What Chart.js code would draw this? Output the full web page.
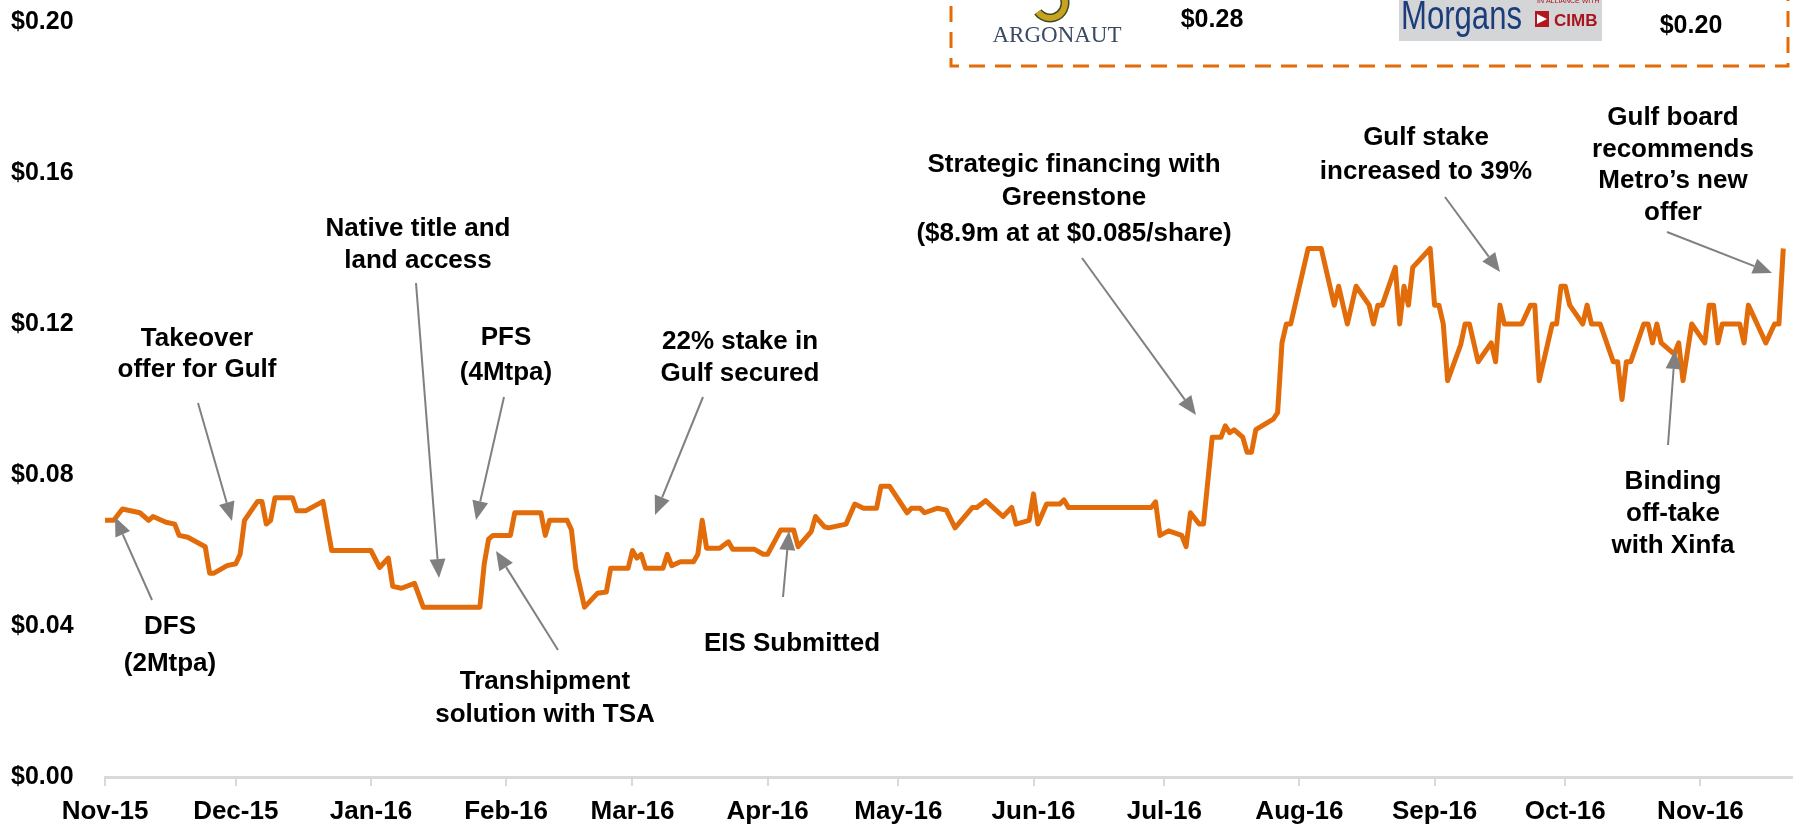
<!DOCTYPE html>
<html lang="en">
<head>
    <meta charset="UTF-8">
    <title>Share price history</title>
    <script src="https://cdn.jsdelivr.net/npm/chart.js"></script>
    <style>
        html, body { margin: 0; padding: 0; background: #fff; }
        .chart-wrap { position: relative; width: 1794px; height: 824px; }
    </style>
</head>
<body>
    <div class="chart-wrap">
        <canvas id="priceChart"></canvas>
    </div>

    <script>
        // Share price (vertices of the line)
        const dates = [
            '2015-11-01', '2015-11-03', '2015-11-05', '2015-11-09', '2015-11-11', '2015-11-12', '2015-11-15', '2015-11-17',
            '2015-11-18', '2015-11-20', '2015-11-24', '2015-11-25', '2015-11-26', '2015-11-29', '2015-12-01', '2015-12-02',
            '2015-12-03', '2015-12-06', '2015-12-07', '2015-12-08', '2015-12-09', '2015-12-10', '2015-12-14', '2015-12-15',
            '2015-12-17', '2015-12-21', '2015-12-23', '2016-01-01', '2016-01-03', '2016-01-05', '2016-01-06', '2016-01-08',
            '2016-01-11', '2016-01-13', '2016-01-26', '2016-01-27', '2016-01-28', '2016-01-29', '2016-02-02', '2016-02-03',
            '2016-02-09', '2016-02-10', '2016-02-11', '2016-02-15', '2016-02-16', '2016-02-17', '2016-02-19', '2016-02-22',
            '2016-02-24', '2016-02-25', '2016-02-29', '2016-03-01', '2016-03-02', '2016-03-03', '2016-03-04', '2016-03-08',
            '2016-03-09', '2016-03-10', '2016-03-12', '2016-03-15', '2016-03-16', '2016-03-17', '2016-03-18', '2016-03-21',
            '2016-03-23', '2016-03-24', '2016-03-29', '2016-03-31', '2016-04-01', '2016-04-04', '2016-04-07', '2016-04-08',
            '2016-04-11', '2016-04-12', '2016-04-14', '2016-04-15', '2016-04-19', '2016-04-21', '2016-04-23', '2016-04-26',
            '2016-04-27', '2016-04-29', '2016-05-03', '2016-05-04', '2016-05-06', '2016-05-07', '2016-05-10', '2016-05-12',
            '2016-05-14', '2016-05-18', '2016-05-19', '2016-05-21', '2016-05-25', '2016-05-27', '2016-05-28', '2016-05-31',
            '2016-06-01', '2016-06-02', '2016-06-04', '2016-06-07', '2016-06-08', '2016-06-09', '2016-06-28', '2016-06-29',
            '2016-06-30', '2016-07-02', '2016-07-05', '2016-07-06', '2016-07-07', '2016-07-09', '2016-07-10', '2016-07-12',
            '2016-07-14', '2016-07-15', '2016-07-16', '2016-07-17', '2016-07-19', '2016-07-20', '2016-07-21', '2016-07-22',
            '2016-07-26', '2016-07-27', '2016-07-28', '2016-07-29', '2016-07-30', '2016-08-03', '2016-08-06', '2016-08-09',
            '2016-08-10', '2016-08-12', '2016-08-14', '2016-08-17', '2016-08-18', '2016-08-19', '2016-08-20', '2016-08-23',
            '2016-08-24', '2016-08-25', '2016-08-26', '2016-08-27', '2016-08-31', '2016-09-01', '2016-09-02', '2016-09-03',
            '2016-09-04', '2016-09-07', '2016-09-08', '2016-09-09', '2016-09-11', '2016-09-14', '2016-09-15', '2016-09-16',
            '2016-09-17', '2016-09-21', '2016-09-23', '2016-09-24', '2016-09-25', '2016-09-28', '2016-09-29', '2016-09-30',
            '2016-10-01', '2016-10-02', '2016-10-05', '2016-10-06', '2016-10-07', '2016-10-09', '2016-10-12', '2016-10-13',
            '2016-10-14', '2016-10-15', '2016-10-16', '2016-10-19', '2016-10-20', '2016-10-21', '2016-10-22', '2016-10-23',
            '2016-10-26', '2016-10-27', '2016-10-28', '2016-10-30', '2016-11-02', '2016-11-03', '2016-11-04', '2016-11-05',
            '2016-11-06', '2016-11-10', '2016-11-11', '2016-11-12', '2016-11-14', '2016-11-16', '2016-11-18', '2016-11-19',
            '2016-11-20'
        ];
        const prices = [
            0.068, 0.068, 0.071, 0.070, 0.068, 0.069, 0.0675, 0.067,
            0.064, 0.0635, 0.061, 0.054, 0.054, 0.056, 0.0565, 0.059,
            0.068, 0.073, 0.073, 0.067, 0.068, 0.074, 0.074, 0.0705,
            0.0705, 0.073, 0.060, 0.060, 0.0555, 0.058, 0.0505, 0.050,
            0.0513, 0.045, 0.045, 0.0565, 0.063, 0.064, 0.064, 0.070,
            0.070, 0.064, 0.068, 0.068, 0.0655, 0.0553, 0.045, 0.0487,
            0.049, 0.0553, 0.0553, 0.060, 0.058, 0.059, 0.0553, 0.0553,
            0.059, 0.056, 0.057, 0.057, 0.059, 0.068, 0.0606, 0.0606,
            0.0623, 0.0603, 0.0603, 0.059, 0.059, 0.0654, 0.0654, 0.061,
            0.065, 0.069, 0.0663, 0.066, 0.067, 0.0723, 0.0712, 0.0712,
            0.077, 0.077, 0.070, 0.0712, 0.0712, 0.070, 0.0712, 0.0707,
            0.066, 0.0714, 0.0714, 0.0732, 0.069, 0.0714, 0.067, 0.068,
            0.075, 0.067, 0.0723, 0.0723, 0.0734, 0.0714, 0.0714, 0.0729,
            0.064, 0.0652, 0.064, 0.061, 0.070, 0.067, 0.067, 0.090,
            0.090, 0.093, 0.0912, 0.092, 0.090, 0.086, 0.086, 0.092,
            0.0948, 0.0965, 0.115, 0.120, 0.120, 0.140, 0.140, 0.125,
            0.130, 0.120, 0.130, 0.125, 0.120, 0.125, 0.125, 0.135,
            0.120, 0.130, 0.125, 0.135, 0.140, 0.125, 0.125, 0.120,
            0.105, 0.1145, 0.120, 0.120, 0.110, 0.115, 0.110, 0.125,
            0.120, 0.120, 0.125, 0.125, 0.105, 0.120, 0.120, 0.130,
            0.130, 0.125, 0.120, 0.125, 0.120, 0.120, 0.110, 0.110,
            0.100, 0.110, 0.110, 0.120, 0.120, 0.115, 0.120, 0.115,
            0.112, 0.115, 0.105, 0.120, 0.115, 0.125, 0.125, 0.115,
            0.120, 0.120, 0.115, 0.125, 0.120, 0.115, 0.120, 0.120,
            0.140
        ];

        const startDate = '2015-11-01';
        const endDate = '2016-11-22';
        const monthTicks = ['2015-11-01', '2015-12-01', '2016-01-01', '2016-02-01', '2016-03-01', '2016-04-01', '2016-05-01',
                            '2016-06-01', '2016-07-01', '2016-08-01', '2016-09-01', '2016-10-01', '2016-11-01'];
        const monthLabels = ['Nov-15', 'Dec-15', 'Jan-16', 'Feb-16', 'Mar-16', 'Apr-16', 'May-16',
                             'Jun-16', 'Jul-16', 'Aug-16', 'Sep-16', 'Oct-16', 'Nov-16'];
        const yMin = 0, yMax = 0.20, yStep = 0.04;

        // Event call-outs (text lines + arrow, page pixels)
        const notes = [
            { lines: ['DFS', '(2Mtpa)'], x: 170, y: [627, 664], from: [152, 600], to: [115, 517] },
            { lines: ['Takeover', 'offer for Gulf'], x: 197, y: [339, 370], from: [198, 403], to: [232, 521] },
            { lines: ['Native title and', 'land access'], x: 418, y: [229, 261], from: [416, 283], to: [439, 578] },
            { lines: ['PFS', '(4Mtpa)'], x: 506, y: [338, 373], from: [504, 397], to: [476, 520] },
            { lines: ['22% stake in', 'Gulf secured'], x: 740, y: [342, 374], from: [703, 397], to: [655, 515] },
            { lines: ['Transhipment', 'solution with TSA'], x: 545, y: [682, 715], from: [558, 650], to: [496, 551] },
            { lines: ['EIS Submitted'], x: 792, y: [644], from: [783, 597], to: [789, 531] },
            { lines: ['Strategic financing with', 'Greenstone', '($8.9m at at $0.085/share)'], x: 1074, y: [165, 198, 234], from: [1082, 258], to: [1196, 415] },
            { lines: ['Gulf stake', 'increased to 39%'], x: 1426, y: [138, 172], from: [1445, 197], to: [1500, 272] },
            { lines: ['Gulf board', 'recommends', 'Metro\u2019s new', 'offer'], x: 1673, y: [118, 150, 181, 213], from: [1667, 232], to: [1772, 273] },
            { lines: ['Binding', 'off-take', 'with Xinfa'], x: 1673, y: [482, 514, 546], from: [1668, 445], to: [1675, 350] }
        ];

        const ORANGE = '#E36C0A';
        const FONT = "'Liberation Sans', Arial, sans-serif";

        const dayOf = s => {
            const [y, m, d] = s.split('-').map(Number);
            const [y0, m0, d0] = startDate.split('-').map(Number);
            return (Date.UTC(y, m - 1, d) - Date.UTC(y0, m0 - 1, d0)) / 86400000;
        };
        const tickDays = monthTicks.map(dayOf);
        const points = dates.map((d, i) => ({ x: dayOf(d), y: prices[i] }));

        function drawArrow(ctx, from, to) {
            const ang = Math.atan2(to[1] - from[1], to[0] - from[0]);
            const len = 19, half = 8;
            const bx = to[0] - len * Math.cos(ang), by = to[1] - len * Math.sin(ang);
            ctx.strokeStyle = '#808080';
            ctx.fillStyle = '#808080';
            ctx.lineWidth = 2;
            ctx.beginPath();
            ctx.moveTo(from[0], from[1]);
            ctx.lineTo(bx, by);
            ctx.stroke();
            ctx.beginPath();
            ctx.moveTo(to[0], to[1]);
            ctx.lineTo(bx + half * Math.sin(ang), by - half * Math.cos(ang));
            ctx.lineTo(bx - half * Math.sin(ang), by + half * Math.cos(ang));
            ctx.closePath();
            ctx.fill();
        }

        // text squeezed to a given width, left aligned
        function fitText(ctx, text, x, y, width) {
            const w = ctx.measureText(text).width;
            ctx.save();
            ctx.translate(x, y);
            ctx.scale(Math.min(1, width / w), 1);
            ctx.fillText(text, 0, 0);
            ctx.restore();
        }

        const calloutPlugin = {
            id: 'callouts',
            afterDraw(chart) {
                const ctx = chart.ctx;
                ctx.save();
                notes.forEach(n => drawArrow(ctx, n.from, n.to));
                ctx.fillStyle = '#000';
                ctx.font = 'bold 26px ' + FONT;
                ctx.textAlign = 'center';
                ctx.textBaseline = 'middle';
                notes.forEach(n => n.lines.forEach((t, i) => ctx.fillText(t, n.x, n.y[i])));

                // broker target box (top right)
                ctx.setLineDash([16, 10]);
                ctx.strokeStyle = ORANGE;
                ctx.lineWidth = 3;
                ctx.beginPath();
                ctx.moveTo(951, -20);
                ctx.lineTo(951, 66);
                ctx.lineTo(1788, 66);
                ctx.lineTo(1788, -20);
                ctx.stroke();
                ctx.setLineDash([]);

                // Argonaut mark
                ctx.lineWidth = 9;
                ctx.strokeStyle = '#3d4a2a';
                ctx.beginPath();
                ctx.arc(1050, 3, 15, -0.35 * Math.PI, 0.8 * Math.PI);
                ctx.stroke();
                ctx.lineWidth = 6;
                ctx.strokeStyle = '#c9a21e';
                ctx.stroke();
                ctx.fillStyle = '#3a4a63';
                ctx.font = '23px "Liberation Serif", serif';
                ctx.fillText('ARGONAUT', 1057, 36);

                // Morgans / CIMB mark
                ctx.fillStyle = '#d4d5d7';
                ctx.fillRect(1399, 0, 203, 41);
                ctx.fillStyle = '#1b3d7b';
                ctx.textAlign = 'left';
                ctx.textBaseline = 'alphabetic';
                ctx.font = '40px "Liberation Sans", sans-serif';
                fitText(ctx, 'Morgans', 1401, 29, 121);
                ctx.fillStyle = '#b3161e';
                ctx.fillRect(1535, 11, 14, 16);
                ctx.fillStyle = '#fff';
                ctx.beginPath();
                ctx.moveTo(1537, 14); ctx.lineTo(1547, 19); ctx.lineTo(1537, 24); ctx.closePath();
                ctx.fill();
                ctx.fillStyle = '#a8151c';
                ctx.font = 'bold 17px ' + FONT;
                fitText(ctx, 'CIMB', 1554, 26, 44);
                ctx.font = '7px ' + FONT;
                ctx.fillText('IN ALLIANCE WITH', 1537, 3);

                ctx.fillStyle = '#000';
                ctx.textAlign = 'center';
                ctx.textBaseline = 'middle';
                ctx.font = 'bold 25px ' + FONT;
                ctx.fillText('$0.28', 1212, 20);
                ctx.fillText('$0.20', 1691, 26);
                ctx.restore();
            }
        };

        Chart.defaults.font.family = FONT;
        Chart.defaults.font.weight = 'bold';
        Chart.defaults.color = '#000';

        const ctx = document.getElementById('priceChart').getContext('2d');
        const priceChart = new Chart(ctx, {
            type: 'line',
            data: {
                datasets: [{
                    label: 'Share price',
                    data: points,
                    borderColor: ORANGE,
                    borderWidth: 5,
                    pointRadius: 0,
                    tension: 0,
                    fill: false,
                    borderJoinStyle: 'round'
                }]
            },
            options: {
                responsive: true,
                maintainAspectRatio: false,
                devicePixelRatio: 1,
                animation: false,
                layout: { padding: { top: 22, left: 11, right: 2, bottom: 0 } },
                plugins: {
                    legend: { display: false },
                    tooltip: { enabled: false }
                },
                scales: {
                    x: {
                        type: 'linear',
                        min: 0,
                        max: dayOf(endDate),
                        afterBuildTicks: scale => { scale.ticks = tickDays.map(v => ({ value: v })); },
                        afterFit: scale => { scale.height = 47; },
                        ticks: {
                            autoSkip: false,
                            maxRotation: 0,
                            minRotation: 0,
                            padding: 10,
                            font: { size: 26, weight: 'bold' },
                            callback: value => monthLabels[tickDays.indexOf(value)]
                        },
                        grid: { drawOnChartArea: false, drawTicks: true, tickLength: 9, color: '#d9d9d9', lineWidth: 2 },
                        border: { color: '#d9d9d9', width: 3 }
                    },
                    y: {
                        min: yMin,
                        max: yMax,
                        afterFit: scale => { scale.width = 94; },
                        ticks: {
                            stepSize: yStep,
                            crossAlign: 'far',
                            font: { size: 25, weight: 'bold' },
                            callback: v => '$' + v.toFixed(2)
                        },
                        grid: { display: false },
                        border: { display: false }
                    }
                }
            },
            plugins: [calloutPlugin]
        });
    </script>
</body>
</html>
